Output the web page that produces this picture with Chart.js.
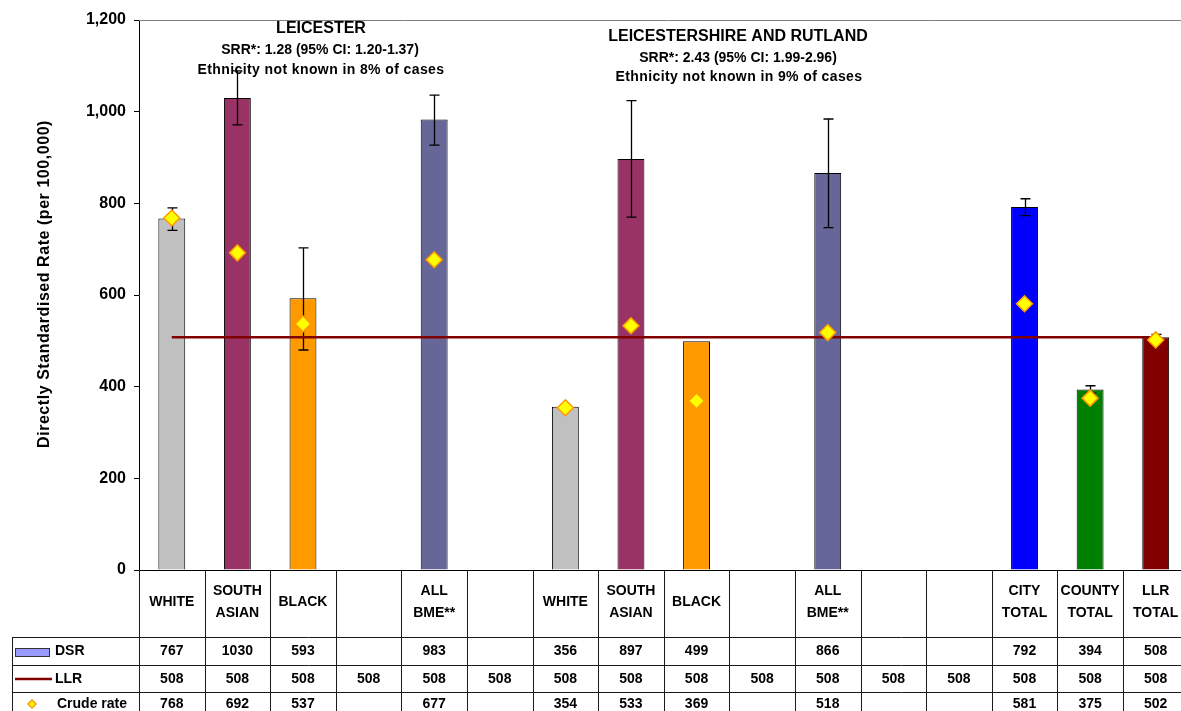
<!DOCTYPE html>
<html>
<head>
<meta charset="utf-8">
<script src="https://cdn.jsdelivr.net/npm/chart.js@4.4.1/dist/chart.umd.min.js"></script>
<style>
	html, body { margin: 0; padding: 0; background: #fff; overflow: hidden; }
	canvas { display: block; }
</style>
</head>
<body>
<canvas id="rateChart" width="1198" height="711" style="width:1198px;height:711px"></canvas>
<script>
/* ---------------- data ---------------- */

var categories = [
	['WHITE'], ['SOUTH', 'ASIAN'], ['BLACK'], [''], ['ALL', 'BME**'], [''],
	['WHITE'], ['SOUTH', 'ASIAN'], ['BLACK'], [''], ['ALL', 'BME**'], [''], [''],
	['CITY', 'TOTAL'], ['COUNTY', 'TOTAL'], ['LLR', 'TOTAL']
];
var dsr   = [ 767, 1030, 593, null, 983, null, 356, 897, 499, null, 866, null, null, 792, 394, 508 ];
var llr   = [ 508, 508, 508, 508, 508, 508, 508, 508, 508, 508, 508, 508, 508, 508, 508, 508 ];
var crude = [ 768, 692, 537, null, 677, null, 354, 533, 369, null, 518, null, null, 581, 375, 502 ];
var ciLow  = [ 741, 971, 480, null, 927, null, null, 770, null, null, 747, null, null, 773, 386, 502 ];
var ciHigh = [ 790, 1089, 703, null, 1036, null, null, 1024, null, null, 984, null, null, 810, 402, 514 ];
var yTicks = [ 0, 200, 400, 600, 800, 1000, 1200 ];
var seriesNames = [ 'DSR', 'LLR', 'Crude rate' ];

var barColours = [
	'#C0C0C0', '#993366', '#FF9900', '#666699', '#666699', '#666699',
	'#C0C0C0', '#993366', '#FF9900', '#666699', '#666699', '#666699', '#666699',
	'#0000FF', '#008000', '#800000'
];

var FONT = "Arial, 'Liberation Sans', sans-serif";

/* ---------------- plugins ---------------- */

// error bars, drawn right after the bars
var errorBars = {
	id: 'errorBars',
	afterDatasetDraw: function (chart, args) {
		if (args.index !== 0) return;
		var ctx = chart.ctx, x = chart.scales.x, y = chart.scales.y;
		ctx.save();
		ctx.strokeStyle = '#000';
		ctx.lineWidth = 1.3;
		for (var i = 0; i < ciLow.length; i++) {
			if (ciLow[i] == null) continue;
			var px = Math.round(x.getPixelForValue(i)) + 0.5;
			var top = y.getPixelForValue(ciHigh[i]);
			var bot = y.getPixelForValue(ciLow[i]);
			ctx.beginPath();
			ctx.moveTo(px, top); ctx.lineTo(px, bot);
			ctx.moveTo(px - 5, top); ctx.lineTo(px + 5, top);
			ctx.moveTo(px - 5, bot); ctx.lineTo(px + 5, bot);
			ctx.stroke();
		}
		ctx.restore();
	}
};

// headings inside the plot area + y axis title
var headings = {
	id: 'headings',
	afterDraw: function (chart) {
		var ctx = chart.ctx;
		ctx.save();
		ctx.fillStyle = '#000';
		ctx.textAlign = 'center';
		ctx.textBaseline = 'middle';
		ctx.font = 'bold 16px ' + FONT;
		ctx.fillText('LEICESTER', 321, 29);
		ctx.fillText('LEICESTERSHIRE AND RUTLAND', 738, 37);
		ctx.font = 'bold 14px ' + FONT;
		ctx.fillText('SRR*: 1.28 (95% CI: 1.20-1.37)', 320, 50);
		ctx.fillText('SRR*: 2.43 (95% CI: 1.99-2.96)', 738, 58);
		ctx.letterSpacing = '0.4px';
		ctx.fillText('Ethnicity not known in 8% of cases', 321, 70);
		ctx.fillText('Ethnicity not known in 9% of cases', 739, 77);

		ctx.translate(45, 284);
		ctx.rotate(-Math.PI / 2);
		ctx.font = 'bold 16px ' + FONT;
		ctx.letterSpacing = '0.55px';
		ctx.fillText('Directly Standardised Rate (per 100,000)', 0, 0);
		ctx.restore();
	}
};

// data table under the axis
var dataTable = {
	id: 'dataTable',
	afterDraw: function (chart) {
		var ctx = chart.ctx, x = chart.scales.x, area = chart.chartArea;
		var H = chart.height, W = chart.width;
		var rowTop = [ 637, 665, 692 ];
		var rowMid = [ 651, 679, 704 ];
		var half = (x.getPixelForValue(1) - x.getPixelForValue(0)) / 2;
		ctx.save();

		// plot area top border
		ctx.strokeStyle = '#808080';
		ctx.lineWidth = 1;
		ctx.beginPath();
		ctx.moveTo(area.left, area.top + 0.5); ctx.lineTo(W, area.top + 0.5);
		ctx.stroke();

		ctx.strokeStyle = '#1a1a1a';
		ctx.beginPath();
		for (var i = 0; i <= categories.length; i++) {
			var bx = Math.round(x.getPixelForValue(i) - half) + 0.5;
			ctx.moveTo(bx, area.bottom); ctx.lineTo(bx, H);
		}
		ctx.moveTo(12.5, rowTop[0]); ctx.lineTo(12.5, H);
		for (var r = 0; r < rowTop.length; r++) {
			ctx.moveTo(12, rowTop[r] + 0.5); ctx.lineTo(W, rowTop[r] + 0.5);
		}
		ctx.stroke();

		// legend keys
		ctx.fillStyle = '#9999FF';
		ctx.fillRect(15.5, 648.5, 34, 8);
		ctx.strokeStyle = '#333';
		ctx.strokeRect(15.5, 648.5, 34, 8);
		ctx.strokeStyle = '#800000';
		ctx.lineWidth = 2.5;
		ctx.beginPath(); ctx.moveTo(15, 679); ctx.lineTo(52, 679); ctx.stroke();
		ctx.fillStyle = '#FFFF00';
		ctx.strokeStyle = '#FF9900';
		ctx.lineWidth = 1.5;
		ctx.beginPath();
		ctx.moveTo(32, 700); ctx.lineTo(36, 704); ctx.lineTo(32, 708); ctx.lineTo(28, 704); ctx.closePath();
		ctx.fill(); ctx.stroke();

		ctx.fillStyle = '#000';
		ctx.font = 'bold 14px ' + FONT;
		ctx.textBaseline = 'middle';
		ctx.textAlign = 'left';
		ctx.fillText(seriesNames[0], 55, rowMid[0]);
		ctx.fillText(seriesNames[1], 55, rowMid[1]);
		ctx.fillText(seriesNames[2], 57, rowMid[2]);

		ctx.textAlign = 'center';
		var rows = [ dsr, llr, crude ];
		for (var r = 0; r < rows.length; r++) {
			for (var i = 0; i < rows[r].length; i++) {
				if (rows[r][i] == null) continue;
				ctx.fillText(String(rows[r][i]), x.getPixelForValue(i), rowMid[r]);
			}
		}
		ctx.restore();
	}
};

/* ---------------- chart ---------------- */

var ctx = document.getElementById('rateChart').getContext('2d');

var rateChart = new Chart(ctx, {
	type: 'bar',
	data: {
		labels: categories,
		datasets: [{
			label: 'DSR',
			data: dsr,
			backgroundColor: barColours,
			borderColor: '#000',
			borderWidth: 1,
			barPercentage: 0.41,
			categoryPercentage: 1,
			order: 3
		}, {
			type: 'line',
			label: 'LLR',
			data: llr,
			borderColor: '#800000',
			borderWidth: 2.5,
			pointRadius: 0,
			order: 2
		}, {
			type: 'line',
			label: 'Crude rate',
			data: crude,
			showLine: false,
			pointStyle: 'rectRot',
			pointRadius: 8,
			backgroundColor: '#FFFF00',
			borderColor: '#FF9900',
			borderWidth: 1.5,
			order: 1
		}]
	},
	options: {
		responsive: false,
		animation: false,
		layout: { padding: { left: 0, right: 0, top: 20, bottom: 0 } },
		plugins: { legend: { display: false }, tooltip: { enabled: false } },
		scales: {
			x: {
				grid: { display: false, drawTicks: true, tickLength: 21 },
				border: { display: true, color: '#000', width: 1 },
				ticks: {
					color: '#000',
					font: { family: FONT, size: 14, weight: 'bold', lineHeight: 1.55 },
					padding: 0,
					crossAlign: 'center',
					maxRotation: 0,
					autoSkip: false
				},
				afterFit: function (s) { s.height = 141; }
			},
			y: {
				min: 0,
				max: 1200,
				afterBuildTicks: function (s) { s.ticks = yTicks.map(function (v) { return { value: v }; }); },
				grid: { drawOnChartArea: false, tickLength: 5, color: '#000' },
				border: { display: true, color: '#000', width: 1 },
				ticks: {
					color: '#000',
					padding: 8,
					font: { family: FONT, size: 16, weight: 'bold' },
					callback: function (v) { return v.toLocaleString('en-US'); }
				},
				afterFit: function (s) { s.width = 139; }
			}
		}
	},
	plugins: [ errorBars, headings, dataTable ]
});
</script>
</body>
</html>
